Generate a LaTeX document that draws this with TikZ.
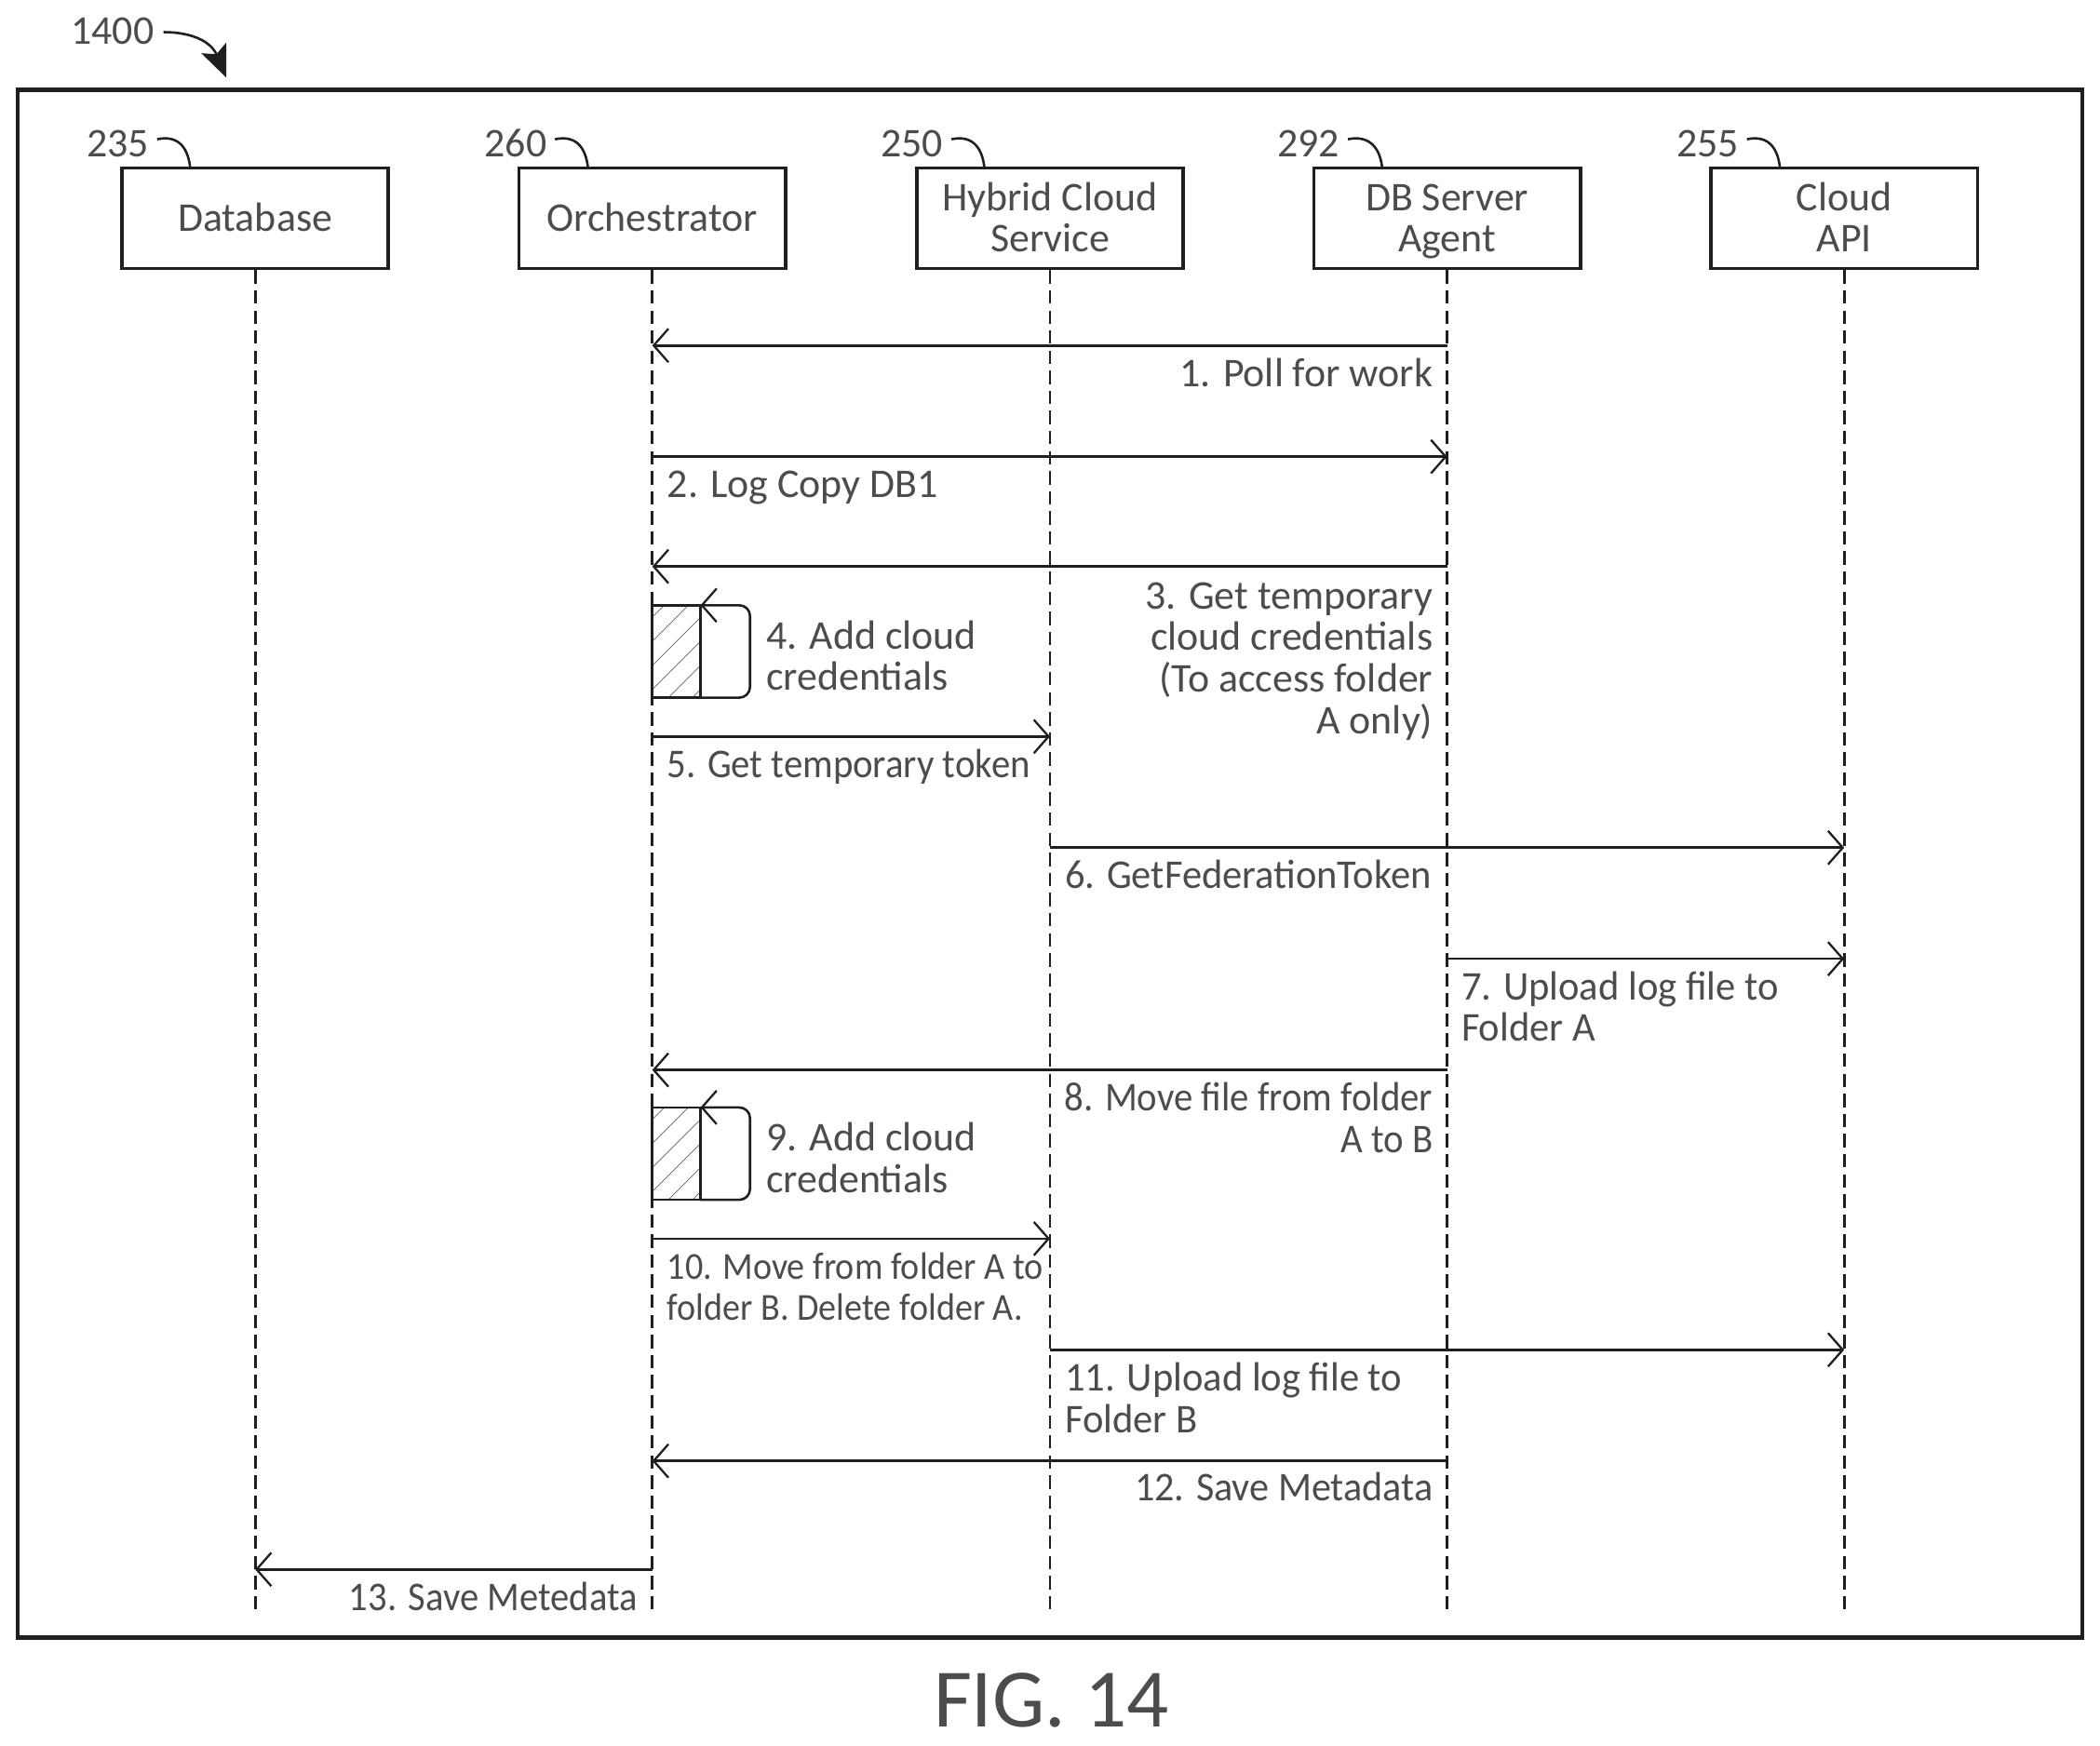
\documentclass[tikz,border=0pt]{standalone}
\usepackage{fontspec}
\setmainfont{Carlito}
\usetikzlibrary{arrows.meta,calc}
\definecolor{ink}{gray}{0.12}
\definecolor{txt}{gray}{0.3}
\setlength{\lineskiplimit}{-20pt}
\newcommand{\st}{\rule[-9.3pt]{0pt}{31pt}}
\newcommand{\flin}{\rule[-9.3pt]{0pt}{38pt}}
\tikzset{
  x=1pt,y=-1pt,
  framebox/.style={draw=ink,line width=3pt},
  actor/.style={draw=ink,line width=2.6pt,minimum width=199pt,minimum height=75pt,inner sep=0pt,align=center,text=txt,font=\fontsize{30.5}{31}\selectfont},
  life/.style={draw=ink,line width=2pt,dash pattern=on 10pt off 5pt},
  msg/.style={draw=ink,line width=1.8pt,-{Straight Barb[length=11pt,width=25pt,line width=1.6pt]}},
  lbl/.style={text=txt,inner sep=0pt,font=\fontsize{30.5}{31}\selectfont},
  lblr/.style={lbl,align=right,anchor=east},
  lbll/.style={lbl,align=left,anchor=west},
  narrow/.style={transform shape,xscale=#1},
  refnum/.style={text=txt,inner sep=0pt,font=\fontsize{30.5}{31}\selectfont},
  leader/.style={draw=ink,line width=1.8pt},
  selfbox/.style={draw=ink,line width=1.8pt},
  hatch/.style={draw=ink!70,line width=0.5pt}
}
\begin{document}
\begin{tikzpicture}
\useasboundingbox (0,0) rectangle (1568,1303.2);
\draw[framebox] (13,67) rectangle (1555,1223);

% actors
\node[actor] (db)    at (190.5,163) {\flin Database\st};
\node[actor] (orch)  at (487,163) {\flin Orchestrator\st};
\node[actor] (hyb)   at (784,163) {\flin Hybrid Cloud\st\\Service\st};
\node[actor] (agent) at (1080.5,163) {\flin DB Server\st\\Agent\st};
\node[actor] (api)   at (1377,163) {\flin Cloud\st\\API\st};

% lifeline ends
\coordinate (bot) at (0,1203);
\foreach \n in {db,orch,hyb,agent,api}
  \draw[life] (\n.south) -- (\n.south |- bot);

% reference numerals
\node[refnum] (r1400) at (84,23) {1400};
\node[refnum] (r235) at (88,107) {235};
\node[refnum] (r260) at (385,107) {260};
\node[refnum] (r250) at (681,107) {250};
\node[refnum] (r292) at (977,107) {292};
\node[refnum] (r255) at (1275,107) {255};
\coordinate (p1400) at (169,58);
\draw[draw=ink,line width=1.8pt,-{Stealth[length=24pt,width=20pt,inset=5pt]}] (r1400.east)++(7,1) .. controls (145,24) and (158,32) .. (p1400);
\foreach \r/\b/\dx in {r235/db/142,r260/orch/439,r250/hyb/735,r292/agent/1032,r255/api/1329}{
  \draw[leader] (\r.east)++(6,-3) .. controls ++(14,-3) and (\dx-2,108) .. (\dx,125);
}

% message levels
\foreach \i/\y in {1/258,2/341,3/423,5/550,6/633,7/716,8/799,10/925,11/1008,12/1091,13/1172}
  \coordinate (m\i) at (0,\y);

\draw[msg] (agent.south |- m1) -- (orch.south |- m1);
\draw[msg] (orch.south |- m2) -- (agent.south |- m2);
\draw[msg] (agent.south |- m3) -- (orch.south |- m3);
\draw[msg] (orch.south |- m5) -- (hyb.south |- m5);
\draw[msg] (hyb.south |- m6) -- (api.south |- m6);
\draw[msg] (agent.south |- m7) -- (api.south |- m7);
\draw[msg] (agent.south |- m8) -- (orch.south |- m8);
\draw[msg] (orch.south |- m10) -- (hyb.south |- m10);
\draw[msg] (hyb.south |- m11) -- (api.south |- m11);
\draw[msg] (agent.south |- m12) -- (orch.south |- m12);
\draw[msg] (orch.south |- m13) -- (db.south |- m13);

% self calls
\foreach \t in {452,827}{
  \begin{scope}
    \clip (487,\t) rectangle (523,\t+69);
    \foreach \k in {-60,-42,...,60}
      \draw[hatch] (487+\k,\t+69) -- ++(80,-80);
  \end{scope}
  \draw[selfbox,fill=none] (487,\t) rectangle (523,\t+69);
  \draw[msg,rounded corners=8pt] (523,\t+69) -- (560,\t+69) -- (560,\t) -- (523,\t);
}

% labels
\node[lblr] (t1) at (1070,279) {\flin 1. Poll for work\st};
\node[lbll] (t2) at (498,362) {\flin 2. Log Copy DB1\st};
\node[lblr] (t3) at (1070,491.5) {\flin 3. Get temporary\st\\cloud credentials\st\\(To access folder\st\\A only)\st};
\node[lbll] (t4) at (572,490.5) {\flin 4. Add cloud\st\\credentials\st};
\node[lbll,narrow=0.93] (t5) at (498,571) {\flin 5. Get temporary token\st};
\node[lbll,narrow=0.968] (t6) at (795,654) {\flin 6. GetFederationToken\st};
\node[lbll,narrow=0.97] (t7) at (1091,752.5) {\flin 7. Upload log file to\st\\Folder A\st};
\node[lblr,narrow=0.93] (t8) at (1070,835.5) {\flin 8. Move file from folder\st\\A to B\st};
\node[lbll] (t9) at (572,865.5) {\flin 9. Add cloud\st\\credentials\st};
\node[lbll,narrow=0.93,font=\fontsize{28.5}{30.5}\selectfont] (t10) at (498,961) {\flin 10. Move from folder A to\st\\folder B. Delete folder A.\st};
\node[lbll,narrow=0.97] (t11) at (795,1044.5) {\flin 11. Upload log file to\st\\Folder B\st};
\node[lblr,narrow=0.96] (t12) at (1070,1111) {\flin 12. Save Metadata\st};
\node[lblr,narrow=0.926] (t13) at (476,1193) {\flin 13. Save Metedata\st};

\node[text=txt,inner sep=0pt,font=\fontsize{62}{64}\selectfont] (fig) at (785,1270) {FIG. 14};
\end{tikzpicture}
\end{document}
